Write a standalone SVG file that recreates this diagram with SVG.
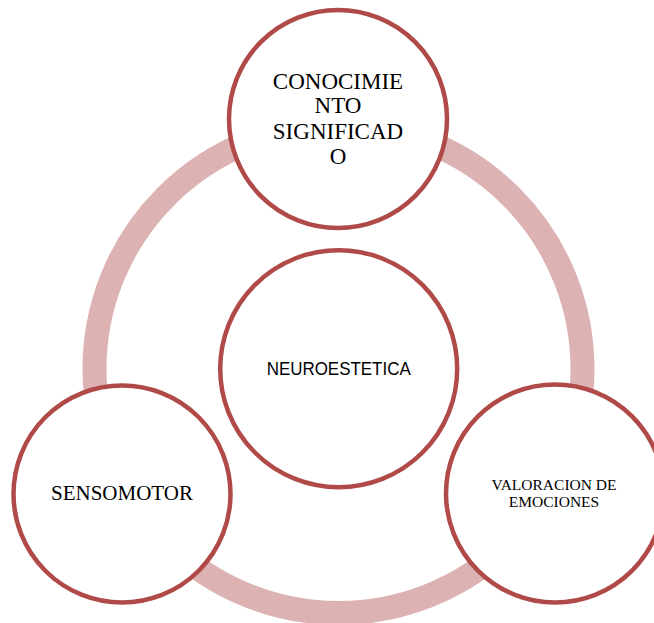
<svg xmlns="http://www.w3.org/2000/svg" width="654" height="623" viewBox="0 0 654 623">
  <style>
    .ring { fill: none; stroke: #DCB2B2; stroke-width: 24; }
    .node { fill: #FFFFFF; stroke: #B04A48; stroke-width: 4.5; }
    .label { fill: #000000; text-anchor: middle; }
  </style>
  <rect width="654" height="623" fill="#FFFFFF"/>

  <!-- cycle ring linking the outer nodes -->
  <g id="connectors">
    <circle class="ring" cx="338.5" cy="369" r="244"/>
  </g>

  <g id="node-conocimiento" font-family="'Liberation Serif', serif">
    <circle class="node" cx="338" cy="119" r="109"/>
    <text class="label" font-size="23" x="338" y="89">CONOCIMIE</text>
    <text class="label" font-size="23" x="338" y="113">NTO</text>
    <text class="label" font-size="23" x="338" y="138.5">SIGNIFICAD</text>
    <text class="label" font-size="23" x="338" y="164">O</text>
  </g>

  <g id="node-neuroestetica" font-family="'Liberation Sans', sans-serif">
    <circle class="node" cx="338.7" cy="368.7" r="118.5"/>
    <text class="label" font-size="18" x="338.7" y="375" textLength="144" lengthAdjust="spacingAndGlyphs">NEUROESTETICA</text>
  </g>

  <g id="node-sensomotor" font-family="'Liberation Serif', serif">
    <circle class="node" cx="122" cy="494" r="108.5"/>
    <text class="label" font-size="21" x="122" y="500">SENSOMOTOR</text>
  </g>

  <g id="node-valoracion" font-family="'Liberation Serif', serif">
    <circle class="node" cx="555" cy="493.5" r="109"/>
    <text class="label" font-size="15.5" x="554" y="490">VALORACION DE</text>
    <text class="label" font-size="15.5" x="554" y="506.5">EMOCIONES</text>
  </g>
</svg>
